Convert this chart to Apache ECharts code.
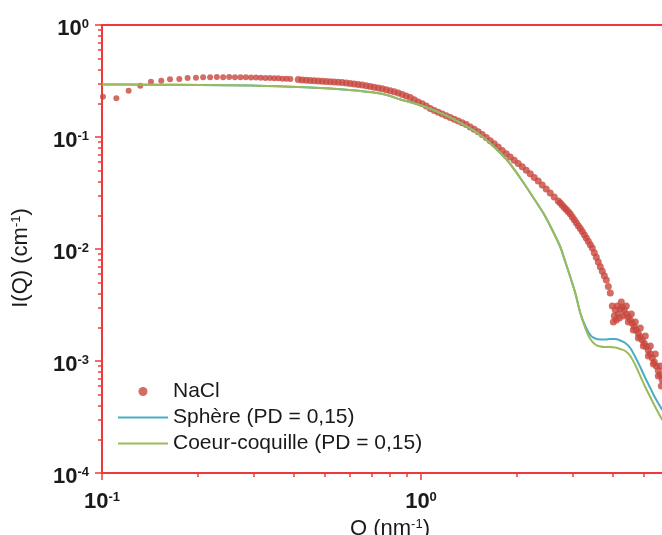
<!DOCTYPE html>
<html><head><meta charset="utf-8">
<script src="https://cdn.jsdelivr.net/npm/echarts@6/dist/echarts.min.js"></script>
<style>html,body{margin:0;padding:0;background:#fff}#c{width:662px;height:535px}</style>
</head><body><div id="c"></div>
<script>
// ---- NaCl measured points (Q in nm^-1, I in cm^-1) ----
const naclQ = [0.1007,0.1109,0.1212,0.1318,0.1424,0.1534,0.1634,0.1747,0.1855,0.197,0.2075,0.2182,0.229,0.2397,0.2504,0.2611,0.2718,0.2825,0.2932,0.3039,0.3146,0.3253,0.336,0.3467,0.3574,0.3681,0.3788,0.3895,
0.4124,0.4245,0.4369,0.4497,0.4629,0.4764,0.4904,0.5048,0.5196,0.5348,0.5504,0.5665,0.5831,0.6002,0.6178,0.6359,0.6545,0.6737,0.6934,0.7137,0.7346,0.7561,0.7782,0.8010,0.8245,0.8486,0.8735,0.8991,0.9254,0.9525,0.9804,1.0091,1.0387,1.0691,1.1004,1.1326,1.1658,1.1999,1.2351,1.2712,1.3085,1.3468,1.3862,1.4268,1.4686,1.5116,1.5559,1.6015,1.6484,1.6966,1.7463,1.7975,1.8501,1.9043,1.9601,2.0175,2.0766,2.1374,2.2000,2.2644,2.3307,2.3990,2.4693,2.5416,2.6160,2.6926,
2.7334,2.7731,2.8134,2.8543,2.8958,2.9379,2.9806,3.0239,3.0679,3.1125,3.1577,3.2036,3.2502,3.2975,3.3454,3.3940,3.4434,3.4934,3.5442,3.5957,3.6480,3.7010,3.7548,3.8094,3.8648,3.9210,3.9780,4.0358,4.0944,4.1540,4.2144,4.2756,4.3378,4.4008,4.4648,4.5297,4.5955,4.6623,4.7301,4.7988,4.8686,4.9394,5.0112,5.0840,5.1579,5.2329,5.3089,5.3861,5.4644,5.5438,5.6244,5.7061,
4.0074,4.0657,4.1249,4.1848,4.2457,4.3075,4.4016,4.4656,4.5634,4.6298,4.6971,4.7999,4.8697,4.9763,5.0487,5.1592,5.2342,5.3488,5.4266,5.5454,5.6261,5.6668];
const naclI = [0.229,0.222,0.259,0.287,0.312,0.318,0.327,0.330,0.336,0.338,0.341,0.342,0.343,0.342,0.343,0.342,0.341,0.341,0.340,0.339,0.338,0.337,0.336,0.335,0.334,0.332,0.331,0.329,
0.3254,0.3234,0.3214,0.3194,0.3175,0.3162,0.3143,0.3127,0.3111,0.3098,0.3085,0.3066,0.3034,0.3010,0.2979,0.2942,0.2906,0.2864,0.2824,0.2783,0.2738,0.2694,0.2644,0.2590,0.2538,0.2475,0.2401,0.2323,0.2253,0.2153,0.2058,0.1983,0.1895,0.1800,0.1727,0.1664,0.1604,0.1549,0.1493,0.1439,0.1387,0.1339,0.1290,0.1231,0.1171,0.1112,0.1053,0.0988,0.0927,0.0870,0.0813,0.0759,0.0710,0.0663,0.0621,0.0581,0.0542,0.0504,0.0469,0.0436,0.0405,0.0373,0.0343,0.0316,0.0291,0.0268,
0.0257,0.0246,0.0235,0.02247,0.02148,0.02054,0.01935,0.01822,0.01714,0.01614,0.01521,0.01433,0.01341,0.01253,0.01171,0.01093,0.01021,0.00927,0.00843,0.00765,0.00695,0.00634,0.00578,0.00529,0.00463,0.00405,0.00310,0.00252,0.00232,0.00263,0.00291,0.00303,0.00285,0.00263,0.00247,0.00232,0.00217,0.00202,0.00189,0.00177,0.00165,0.00154,0.00144,0.00135,0.00125,0.001155,0.001063,0.000980,0.000902,0.000824,0.000750,0.000677,
0.002229,0.002853,0.003098,0.002420,0.003362,0.002522,0.003098,0.002229,0.002628,0.001891,0.002229,0.001605,0.001970,0.001361,0.001672,0.001108,0.001361,0.000940,0.001155,0.000735,0.000902,0.000598];

// ---- Model: sphere (PD = 0.15) ----
const sphereQ = [0.1,0.1417,0.2033,0.2917,0.3893,0.4834,0.5585,0.6452,0.7453,0.8013,0.8611,0.9257,0.9950,1.0928,1.2355,1.3969,1.5344,1.6491,1.7727,1.9055,2.0478,2.2012,2.4178,2.5798,2.7334,2.8344,2.9377,3.0455,3.1577,3.2736,3.3940,3.5185,3.6480,3.7821,3.9210,4.0652,4.2144,4.3694,4.5297,4.6963,4.8686,5.0476,5.2329,5.4251,5.7061];
const sphereI = [0.2943,0.2931,0.2912,0.2883,0.2812,0.2738,0.2666,0.2574,0.2445,0.2323,0.2162,0.2045,0.1931,0.1742,0.1493,0.1236,0.1042,0.0875,0.0720,0.0574,0.0430,0.0316,0.02096,0.01478,0.01042,0.00765,0.005623,0.004047,0.002683,0.002054,0.001706,0.001588,0.001556,0.001556,0.001572,0.001572,0.001524,0.001448,0.001306,0.001086,0.000884,0.000705,0.000574,0.000467,0.000365];

// ---- Model: core-shell (PD = 0.15) ----
const coreShellQ = [0.1,0.1417,0.2033,0.2917,0.3893,0.4834,0.5585,0.6452,0.7453,0.8013,0.8611,0.9257,0.9950,1.0928,1.2355,1.3969,1.5344,1.6491,1.7727,1.9055,2.0478,2.2012,2.4178,2.5798,2.7334,2.8344,2.9377,3.0455,3.1577,3.2736,3.3940,3.5185,3.6480,3.7821,3.9210,4.0652,4.2144,4.3694,4.5297,4.6963,4.8686,5.0476,5.2329,5.4251,5.7061];
const coreShellI = [0.2943,0.2931,0.2912,0.2883,0.2812,0.2738,0.2666,0.2574,0.2445,0.2323,0.2162,0.2045,0.1931,0.1742,0.1493,0.1236,0.1042,0.0875,0.0720,0.0574,0.0430,0.0316,0.02096,0.01478,0.01042,0.00765,0.005623,0.004047,0.002683,0.001970,0.001572,0.001404,0.001348,0.001334,0.001334,0.001320,0.001280,0.001229,0.001108,0.000921,0.000735,0.000586,0.000477,0.000388,0.000297];

const seriesNames = ['NaCl', 'Sphère (PD = 0,15)', 'Coeur-coquille (PD = 0,15)'];
const minorFactors = [2,3,4,5,6,7,8,9];
const xDecades = [-1, 0];
const yDecades = [-4, -3, -2, -1];

const zip = (a, b) => a.map((v, i) => [v, b[i]]);
const FONT = 'Liberation Sans, Arial, sans-serif';
const AX = '#f03a3a';
const TXT = '#1a1a1a';

const minorVals = (decs) => {
  const out = [];
  decs.forEach(d => minorFactors.forEach(k => out.push(d + Math.log10(k))));
  return out;
};

const supFmt = v => '{b|10}{s|' + Math.round(Math.log10(v)) + '}';
const labelRich = {
  b: {fontSize: 22, fontWeight: 'bold', fontFamily: FONT, color: TXT},
  s: {fontSize: 13, fontWeight: 'bold', fontFamily: FONT, color: TXT, verticalAlign: 'top'}
};
const nameRich = {
  n: {fontSize: 22, fontFamily: FONT, color: TXT},
  s: {fontSize: 13, fontFamily: FONT, color: TXT, verticalAlign: 'top'}
};
const hideSym = {opacity: 0, color: 'transparent', borderWidth: 0};

const chart = echarts.init(document.getElementById('c'), null, {renderer: 'canvas'});
chart.setOption({
  animation: false,
  backgroundColor: '#fff',
  grid: {left: 102, top: 25, right: -78, bottom: 62, show: true, borderColor: AX, borderWidth: 2,
         containLabel: false, outerBoundsMode: 'none'},
  legend: {
    orient: 'vertical', left: 112, top: 376, itemWidth: 50, itemHeight: 9, itemGap: 5,
    textStyle: {fontSize: 21, fontFamily: FONT, color: TXT},
    data: [
      {name: seriesNames[0]},
      {name: seriesNames[1], itemStyle: hideSym},
      {name: seriesNames[2], itemStyle: hideSym}
    ]
  },
  xAxis: [
    {type: 'log', logBase: 10, min: 0.1, max: 10, position: 'bottom',
     axisLine: {show: true, onZero: false, lineStyle: {color: AX, width: 2}},
     axisTick: {show: true, length: 7, lineStyle: {color: AX, width: 1.5}},
     splitLine: {show: false},
     axisLabel: {margin: 18, formatter: supFmt, rich: labelRich},
     name: '{n|Q (nm}{s|-1}{n|)}', nameLocation: 'middle', nameGap: 38,
     nameTextStyle: {rich: nameRich, padding: [0, 62, 0, 0]}
    },
    {type: 'value', min: -1, max: 1, position: 'bottom',
     axisLine: {show: false, onZero: false},
     axisTick: {show: true, length: 4, customValues: minorVals(xDecades), lineStyle: {color: AX, width: 1.5}},
     axisLabel: {show: false}, splitLine: {show: false}
    }
  ],
  yAxis: [
    {type: 'log', logBase: 10, min: 1e-4, max: 1, position: 'left',
     axisLine: {show: true, onZero: false, lineStyle: {color: AX, width: 2}},
     axisTick: {show: true, length: 7, lineStyle: {color: AX, width: 1.5}},
     splitLine: {show: false},
     axisLabel: {margin: 13, formatter: supFmt, rich: labelRich, padding: [8, 0, 0, 0]},
     name: '{n|I(Q) (cm}{s|-1}{n|)}', nameLocation: 'middle', nameRotate: 90, nameGap: 70,
     nameTextStyle: {rich: nameRich, padding: [0, 18, 0, 0]}
    },
    {type: 'value', min: -4, max: 0, position: 'left',
     axisLine: {show: false, onZero: false},
     axisTick: {show: true, length: 4, customValues: minorVals(yDecades), lineStyle: {color: AX, width: 1.5}},
     axisLabel: {show: false}, splitLine: {show: false}
    }
  ],
  series: [
    {name: seriesNames[0], type: 'scatter', data: zip(naclQ, naclI), symbol: 'circle',
     symbolSize: v => (v[0] > 0.4 ? 7 : 6),
     itemStyle: {color: '#c8473d'}, z: 2},
    {name: seriesNames[1], type: 'line', data: zip(sphereQ, sphereI), symbol: 'none', showSymbol: false,
     smooth: 0.3, lineStyle: {color: '#4bacc6', width: 2}, itemStyle: {color: '#4bacc6'}, z: 3},
    {name: seriesNames[2], type: 'line', data: zip(coreShellQ, coreShellI), symbol: 'none', showSymbol: false,
     smooth: 0.3, lineStyle: {color: '#9bbb59', width: 2}, itemStyle: {color: '#9bbb59'}, z: 4}
  ]
});
</script></body></html>
